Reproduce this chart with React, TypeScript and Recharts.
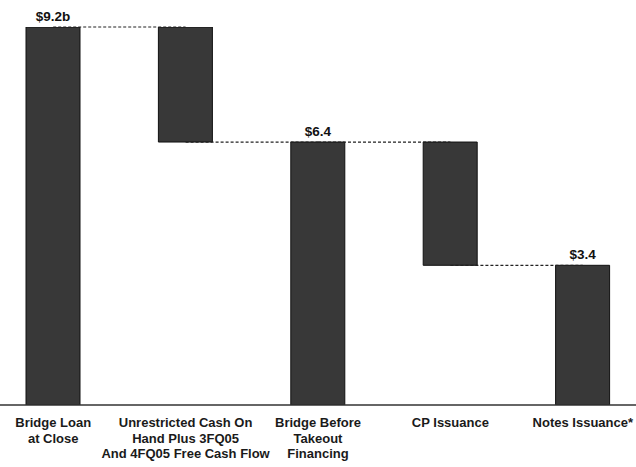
import React from "react";
import { ComposedChart, Bar, XAxis, YAxis, LabelList, ReferenceLine } from "recharts";

const categories = [
  "Bridge Loan\nat Close",
  "Unrestricted Cash On\nHand Plus 3FQ05\nAnd 4FQ05 Free Cash Flow",
  "Bridge Before\nTakeout\nFinancing",
  "CP Issuance",
  "Notes Issuance*",
];
// positive = total bar, negative = decrease step
const amounts = [9.2, -2.8, 6.4, -3.0, 3.4];
const isTotal = [true, false, true, false, true];
const valueLabels = ["$9.2b", "", "$6.4", "", "$3.4"];

const data = (() => {
  let level = 0;
  return categories.map((name, i) => {
    let range: [number, number];
    if (isTotal[i]) {
      level = amounts[i];
      range = [0, level];
    } else {
      const next = level + amounts[i];
      range = [next, level];
      level = next;
    }
    return { name, range, level, label: valueLabels[i] };
  });
})();

const FONT = "'Liberation Sans', Arial, sans-serif";

const Tick = (props: any) => {
  const { x, y, payload } = props;
  const lines = String(payload.value).split("\n");
  return (
    <text
      x={x}
      y={y}
      textAnchor="middle"
      fontFamily={FONT}
      fontSize={13}
      fontWeight="bold"
      fill="#1a1a1a"
    >
      {lines.map((l, i) => (
        <tspan key={i} x={x} dy={i === 0 ? 14 : 15.5}>
          {l}
        </tspan>
      ))}
    </text>
  );
};

export default function App() {
  return (
    <div style={{ position: "fixed", left: -13, top: 0, width: 662, height: 467, background: "#fff" }}>
      <ComposedChart
        width={662}
        height={467}
        data={data}
        margin={{ top: 27, right: 0, bottom: 0, left: 0 }}
      >
        <XAxis
          dataKey="name"
          interval={0}
          axisLine={{ stroke: "#333", strokeWidth: 1.5 }}
          tickLine={false}
          tick={<Tick />}
          height={62}
        />
        <YAxis hide domain={[0, 9.2]} allowDataOverflow />
        {data.slice(0, -1).map((d, i) => (
          <ReferenceLine
            key={i}
            segment={[
              { x: categories[i], y: d.level },
              { x: categories[i + 1], y: d.level },
            ]}
            stroke="#222"
            strokeWidth={1.2}
            strokeDasharray="3 2"
            ifOverflow="visible"
          />
        ))}
        <Bar
          dataKey="range"
          barSize={54}
          fill="#383838"
          stroke="#111"
          strokeWidth={1}
          isAnimationActive={false}
        >
          <LabelList
            dataKey="label"
            position="top"
            offset={6}
            fontFamily={FONT}
            fontSize={13.5}
            fontWeight="bold"
            fill="#111"
          />
        </Bar>
      </ComposedChart>
    </div>
  );
}
